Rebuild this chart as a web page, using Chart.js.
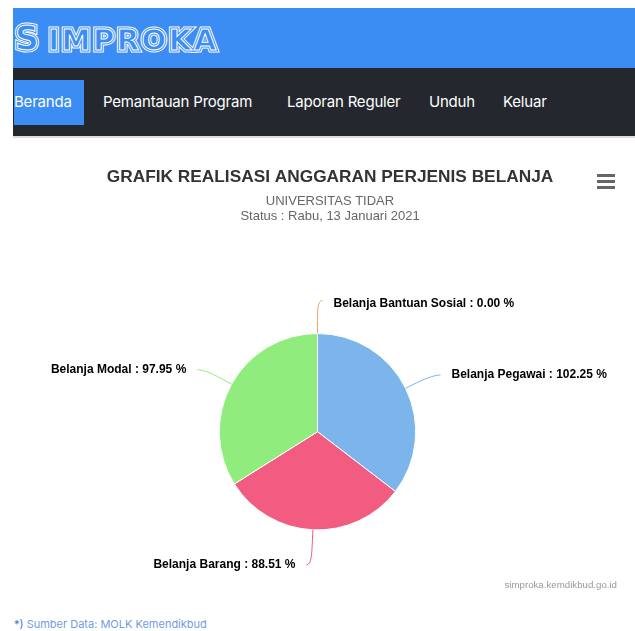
<!DOCTYPE html>
<html>
<head>
<meta charset="utf-8">
<script src="https://cdn.jsdelivr.net/npm/chart.js@4.4.1/dist/chart.umd.min.js"></script>
<style>
html,body{margin:0;padding:0;background:#fff;width:635px;height:631px;overflow:hidden;font-family:Inter,"Noto Sans",sans-serif;}
#top{position:absolute;left:13px;top:8px;width:622px;height:60px;background:#3b8cf3;overflow:hidden;}
.logo{position:absolute;left:2px;top:11px;font:bold 29px "DejaVu Sans",sans-serif;letter-spacing:2.5px;white-space:nowrap;color:#3b8cf3;}
.logo .ic{font-size:33px;margin-right:7px;}
.l1{-webkit-text-stroke:5px #fff;}
.l2{-webkit-text-stroke:3px #3b8cf3;}
.l3{-webkit-text-stroke:1px #fff;}
#nav{position:absolute;left:13px;top:68px;width:622px;height:68px;background:#24282e;border-bottom:2px solid #dcdcdc;}
#active{position:absolute;left:1px;top:12px;width:70px;height:45px;background:#3b8cf3;}
.item{position:absolute;top:0;height:68px;line-height:68px;color:#fff;font-size:15px;letter-spacing:-0.2px;white-space:nowrap;}
#menu{position:absolute;left:597px;top:174px;width:18px;height:15px;}
#menu div{position:absolute;left:0;width:18px;height:3px;background:#666;}
#chartBox{position:absolute;left:32px;top:150px;width:596px;height:445px;}
#foot{position:absolute;left:14px;top:617px;font-size:11px;color:#6f9de2;white-space:nowrap;}
#foot span{color:#2f74d8;}
</style>
</head>
<body>
<div id="top">
  <div class="logo l1"><span class="ic">S</span>IMPROKA</div>
  <div class="logo l2" aria-hidden="true"><span class="ic">S</span>IMPROKA</div>
  <div class="logo l3" aria-hidden="true"><span class="ic">S</span>IMPROKA</div>
</div>
<div id="nav">
  <div id="active"></div>
  <div class="item" style="left:1px">Beranda</div>
  <div class="item" style="left:90px">Pemantauan Program</div>
  <div class="item" style="left:274px">Laporan Reguler</div>
  <div class="item" style="left:416px">Unduh</div>
  <div class="item" style="left:490px">Keluar</div>
</div>
<div id="menu"><div style="top:0"></div><div style="top:6px"></div><div style="top:11.5px"></div></div>
<div id="chartBox"><canvas id="c"></canvas></div>
<div id="foot"><span>*)</span> Sumber Data: MOLK Kemendikbud</div>
<script>
// ---- data ----
const categories = ['Belanja Pegawai', 'Belanja Barang', 'Belanja Modal', 'Belanja Bantuan Sosial'];
const realisasi = [102.25, 88.51, 97.95, 0.00];
const sliceColors = ['#7cb5ec', '#f15c80', '#90ed7d', '#f7a35c'];
const titleText = 'GRAFIK REALISASI ANGGARAN PERJENIS BELANJA';
const subtitleLines = ['UNIVERSITAS TIDAR', 'Status : Rabu, 13 Januari 2021'];
const creditText = 'simproka.kemdikbud.go.id';

const FONT = '"Liberation Sans", Arial, Helvetica, sans-serif';

const textPlugin = {
  id: 'hcText',
  afterDraw(chart) {
    const ctx = chart.ctx;
    ctx.save();
    ctx.textAlign = 'center';
    ctx.textBaseline = 'middle';
    ctx.fillStyle = '#333333';
    ctx.font = 'bold 17.3px ' + FONT;
    ctx.fillText(titleText, chart.width / 2, 27.5);
    ctx.fillStyle = '#666666';
    ctx.font = '13px ' + FONT;
    subtitleLines.forEach((t, i) => ctx.fillText(t, chart.width / 2, 51 + i * 15));
    ctx.textAlign = 'right';
    ctx.fillStyle = '#999999';
    ctx.font = '9.7px ' + FONT;
    ctx.fillText(creditText, chart.width - 11, 435);
    ctx.restore();
  }
};

const labelPlugin = {
  id: 'pieLabels',
  afterDatasetsDraw(chart) {
    const ctx = chart.ctx;
    const meta = chart.getDatasetMeta(0);
    const ds = chart.data.datasets[0];
    ctx.save();
    meta.data.forEach((arc, i) => {
      const p = arc.getProps(['x', 'y', 'startAngle', 'endAngle', 'outerRadius'], true);
      const mid = (p.startAngle + p.endAngle) / 2;
      const c = Math.cos(mid), s = Math.sin(mid);
      const right = c > -1e-6;
      const r = p.outerRadius;
      const dist = 30;
      const R = r + dist;
      const ly = p.y + R * s + Math.max(0, s) * 5;
      const dy = ly - p.y;
      const dx = Math.sqrt(Math.max(0, R * R - dy * dy));
      const nearAxis = dx < 20;
      const ax = right ? p.x + dx + (nearAxis ? 5 : 8) : p.x - dx - (nearAxis ? 11 : 8);
      const tx = p.x + r * c, ty = p.y + r * s;
      const bx = p.x + (r + 12) * c, by = p.y + (r + 12) * s;
      const ay = ly - (s < -0.9 ? 3 : 0);
      ctx.strokeStyle = ds.backgroundColor[i];
      ctx.lineWidth = 1;
      ctx.beginPath();
      ctx.moveTo(ax, ay);
      ctx.bezierCurveTo(ax + (right ? -5 : 5), ay, 2 * bx - tx, 2 * by - ty, bx, by);
      ctx.lineTo(tx, ty);
      ctx.stroke();
      ctx.fillStyle = '#000000';
      ctx.font = 'bold 12px ' + FONT;
      ctx.textBaseline = 'middle';
      ctx.textAlign = right ? 'left' : 'right';
      const label = chart.data.labels[i] + ' : ' + ds.data[i].toFixed(2) + ' %';
      ctx.fillText(label, right ? ax + 11 : ax - 11, ly);
    });
    ctx.restore();
  }
};

new Chart(document.getElementById('c'), {
  type: 'pie',
  data: {
    labels: categories,
    datasets: [{
      data: realisasi,
      backgroundColor: sliceColors,
      borderColor: '#ffffff',
      borderWidth: 1
    }]
  },
  options: {
    responsive: true,
    maintainAspectRatio: false,
    animation: false,
    events: [],
    layout: { padding: { top: 183, bottom: 64.6, left: 0, right: 25 } },
    plugins: {
      legend: { display: false },
      tooltip: { enabled: false },
      title: { display: false }
    }
  },
  plugins: [labelPlugin, textPlugin]
});
</script>
</body>
</html>
